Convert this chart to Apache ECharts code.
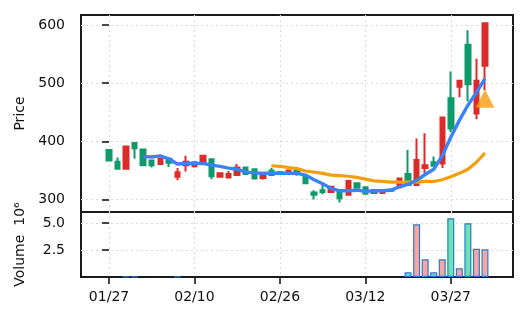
<!DOCTYPE html>
<html><head><meta charset="utf-8">
<script src="https://cdn.jsdelivr.net/npm/echarts@6/dist/echarts.min.js"></script>
<style>html,body{margin:0;padding:0;background:#fff}#c{width:527px;height:322px}</style>
</head><body><div id="c"></div>
<script>
const dates = ['01/27','01/28','01/29','01/30','01/31','02/03','02/04','02/05','02/06','02/07',
  '02/10','02/11','02/12','02/13','02/14','02/18','02/19','02/20','02/21','02/25',
  '02/26','02/27','02/28','03/03','03/04','03/05','03/06','03/07','03/10','03/11',
  '03/12','03/13','03/14','03/17','03/18','03/19','03/20','03/21','03/24','03/26',
  '03/27','03/28','03/31','04/01','04/02'];
const opens  = [367,353,391,388,359,359,370,363,347,365, 364,375,340,345,344,355,344,336,343,342,
                347,350,344,328,308,313,322,302,332,320, 310,311,315,315,336,325,368,359,358,441,
                422,504,498,504,603];
const closes = [385,365,353,397,386,367,361,370,339,359, 357,363,369,339,338,342,355,352,337,350,
                345,345,350,340,312,316,313,314,308,328, 321,316,311,317,321,344,325,354,364,362,
                474,494,566,448,530];
const lows   = [366,353,352,370,358,355,360,356,333,348, 355,362,335,339,337,341,343,335,334,341,
                344,344,341,327,300,309,312,295,307,319, 309,310,310,314,320,324,324,345,357,354,
                416,476,469,438,488];
const highs  = [386,372,391,399,387,368,371,371,354,375, 365,377,370,346,349,361,356,353,344,354,
                348,351,351,341,316,325,323,315,334,329, 322,317,316,318,337,385,405,414,374,442,
                520,505,591,542,603];
const volumes = [null,null,0.03,0.03,null,null,null,null,0.03,null,
                 null,null,null,null,null,null,null,null,null,null,
                 null,null,null,null,null,null,null,null,null,null,
                 null,null,null,null,null,0.43,4.88,1.64,0.43,1.64,
                 5.43,0.80,4.97,2.62,2.56];
const maFast = [null,null,null,null,374,373,375,370,361,362, 362,362,359,357,354,352,347,346,345,345,
                345,345,345,342,334,327,319,315,315,316, 314,315,315,316,322,326,333,343,352,375,
                407,436,462,484,508];
const maSlow = [null,null,null,null,null,null,null,null,null,null, null,null,null,null,null,null,null,null,null,358,
                357,355,353,349,347,345,342,341,340,338, 335,332,331,330,330,330,330,331,331,334,
                339,345,352,364,380];
const signalIndex = 44;
const signalPrice = 473;
const priceTicks = [300, 400, 500, 600];
const volumeTicks = [2.5, 5.0];
const dateTicks = [0, 10, 20, 30, 40];

const FONT = 'DejaVu Sans';
const INK = '#111';
const UP = '#0f9a6c', DOWN = '#dc2b2b';
const gridLine = {show: true, lineStyle: {color: '#dcdcdc', width: 1.2, type: [2, 3]}};
const tickStyle = {color: '#1a1a1a', width: 1.6};

const candleData = dates.map((d, i) => [i, opens[i], closes[i], lows[i], highs[i]]);
const volData = dates.map((d, i) => ({
  value: [i, volumes[i]],
  itemStyle: {color: closes[i] >= opens[i] ? '#6de3b4' : '#f7a6a3'}
}));

const chart = echarts.init(document.getElementById('c'), null, {renderer: 'canvas'});
chart.setOption({
  animation: false,
  backgroundColor: '#fff',
  grid: [
    {left: 81, top: 15, width: 432, height: 197, show: true, borderColor: '#1a1a1a', borderWidth: 2, backgroundColor: 'transparent'},
    {left: 81, top: 212, width: 432, height: 65, show: true, borderColor: '#1a1a1a', borderWidth: 2, backgroundColor: 'transparent'}
  ],
  xAxis: [
    {gridIndex: 0, type: 'value', min: -3.28, max: 47.28,
     axisLine: {show: false},
     axisTick: {show: false, customValues: dateTicks},
     axisLabel: {show: false, customValues: dateTicks},
     splitLine: gridLine},
    {gridIndex: 1, type: 'value', min: -3.28, max: 47.28,
     axisLine: {show: false},
     axisTick: {show: true, length: 7, lineStyle: tickStyle, customValues: dateTicks},
     axisLabel: {show: true, customValues: dateTicks, formatter: v => dates[v] || '',
                 margin: 13, fontSize: 14, color: INK, fontFamily: FONT},
     splitLine: gridLine}
  ],
  yAxis: [
    {gridIndex: 0, type: 'value', min: 278.5, max: 617.2,
     axisLine: {show: false},
     axisTick: {show: true, length: 7, lineStyle: tickStyle, customValues: priceTicks},
     axisLabel: {customValues: priceTicks, margin: 16, fontSize: 14, color: INK, fontFamily: FONT},
     splitLine: gridLine,
     name: 'Price', nameLocation: 'middle', nameGap: 54,
     nameTextStyle: {fontSize: 14, color: INK, fontFamily: FONT}},
    {gridIndex: 1, type: 'value', min: 0, max: 6.02,
     axisLine: {show: false},
     axisTick: {show: true, length: 7, lineStyle: tickStyle, customValues: volumeTicks},
     axisLabel: {customValues: volumeTicks, formatter: v => v.toFixed(1), margin: 16,
                 fontSize: 14, color: INK, fontFamily: FONT},
     splitLine: gridLine,
     name: 'Volume  10\u2076', nameLocation: 'middle', nameGap: 54,
     nameTextStyle: {fontSize: 14, color: INK, fontFamily: FONT}}
  ],
  series: [
    {type: 'candlestick', xAxisIndex: 0, yAxisIndex: 0, data: candleData,
     encode: {x: 0, y: [1, 2, 3, 4]},
     barWidth: 5,
     itemStyle: {color: UP, color0: DOWN, borderColor: UP, borderColor0: DOWN, borderWidth: 2}},
    {type: 'line', xAxisIndex: 0, yAxisIndex: 0, data: maSlow.map((v, i) => [i, v]),
     showSymbol: false, symbol: 'none', lineStyle: {color: '#f59e0b', width: 3.2}, z: 3},
    {type: 'line', xAxisIndex: 0, yAxisIndex: 0, data: maFast.map((v, i) => [i, v]),
     showSymbol: false, symbol: 'none', lineStyle: {color: '#3b82f6', width: 3.4}, z: 4},
    {type: 'scatter', xAxisIndex: 0, yAxisIndex: 0, data: [[signalIndex, signalPrice]],
     symbol: 'triangle', symbolSize: [19, 18], itemStyle: {color: '#f59e0b'}, z: 5},
    {type: 'bar', xAxisIndex: 1, yAxisIndex: 1, data: volData, barWidth: 7,
     itemStyle: {borderColor: '#2b7bca', borderWidth: 1.2}}
  ]
});
</script>
</body></html>
